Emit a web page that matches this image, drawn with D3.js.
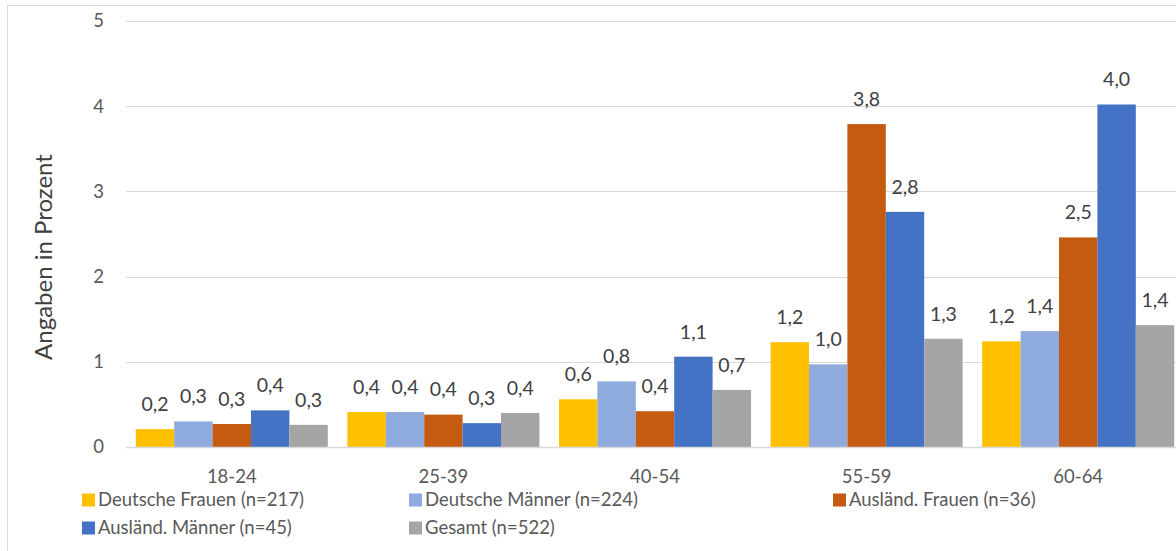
<!DOCTYPE html>
<html>
<head>
<meta charset="utf-8">
<script src="https://cdn.jsdelivr.net/npm/d3@7"></script>
<style>
  html, body { margin: 0; padding: 0; background: #fff; }
  svg { display: block; font-family: Lato, "Noto Sans", sans-serif; }
</style>
</head>
<body>
<svg id="chart" width="1176" height="551"></svg>
<script>
const categories = ["18-24", "25-39", "40-54", "55-59", "60-64"];
const seriesNames = ["Deutsche Frauen (n=217)", "Deutsche Männer (n=224)", "Ausländ. Frauen (n=36)", "Ausländ. Männer (n=45)", "Gesamt (n=522)"];
const deutscheFrauen = [0.21, 0.41, 0.56, 1.23, 1.24];
const deutscheMaenner = [0.30, 0.41, 0.77, 0.97, 1.36];
const auslFrauen = [0.27, 0.38, 0.42, 3.79, 2.46];
const auslMaenner = [0.43, 0.28, 1.06, 2.76, 4.02];
const gesamt = [0.26, 0.40, 0.67, 1.27, 1.43];
const yTicks = [0, 1, 2, 3, 4, 5];
const yTitle = "Angaben in Prozent";
const colors = ["#FFC000", "#8FAADC", "#C55A11", "#4472C4", "#A5A5A5"];

const seriesValues = [deutscheFrauen, deutscheMaenner, auslFrauen, auslMaenner, gesamt];
const svg = d3.select("#chart");

// chart area border
svg.append("rect").attr("x", 7.5).attr("y", 5.5).attr("width", 1200).attr("height", 600)
  .attr("fill", "none").attr("stroke", "#d9d9d9").attr("stroke-width", 1);

const y = d3.scaleLinear().domain([0, 5]).range([447, 21]);
const x0 = d3.scaleBand().domain(categories).range([126, 1184]).paddingInner(0.0926).paddingOuter(0.0463);
const x1 = d3.scaleBand().domain(seriesNames).range([0, x0.bandwidth()]);

// gridlines
svg.append("g").selectAll("line").data(yTicks.filter(t => t > 0)).join("line")
  .attr("x1", 126).attr("x2", 1184)
  .attr("y1", d => Math.round(y(d)) + 0.5).attr("y2", d => Math.round(y(d)) + 0.5)
  .attr("stroke", "#d9d9d9").attr("stroke-width", 1);

// y tick labels
svg.append("g").selectAll("text").data(yTicks).join("text")
  .attr("x", 104).attr("y", d => y(d)).attr("dy", "0.35em")
  .attr("text-anchor", "end").attr("font-size", 18.5).attr("fill", "#595959")
  .text(d => d);

// y title
svg.append("text").attr("transform", "translate(44,257) rotate(-90)")
  .attr("text-anchor", "middle").attr("dy", "0.35em").attr("font-size", 24).attr("fill", "#404040")
  .text(yTitle);

// bars
const groups = svg.append("g").selectAll("g").data(categories).join("g")
  .attr("transform", d => `translate(${x0(d)},0)`);

groups.selectAll("rect").data((c, i) => seriesNames.map((s, j) => ({ s, j, v: seriesValues[j][i] }))).join("rect")
  .attr("x", d => x1(d.s)).attr("width", x1.bandwidth())
  .attr("y", d => y(d.v)).attr("height", d => y(0) - y(d.v))
  .attr("fill", d => colors[d.j]);

groups.selectAll("text").data((c, i) => seriesNames.map((s, j) => ({ s, j, v: seriesValues[j][i] }))).join("text")
  .attr("x", d => x1(d.s) + x1.bandwidth() / 2).attr("y", d => y(d.v) - 25)
  .attr("dy", "0.35em").attr("text-anchor", "middle")
  .attr("font-size", 19.5).attr("fill", "#404040")
  .text(d => d.v.toFixed(1).replace(".", ","));

// baseline
svg.append("line").attr("x1", 126).attr("x2", 1184).attr("y1", y(0) + 0.5).attr("y2", y(0) + 0.5)
  .attr("stroke", "#d9d9d9").attr("stroke-width", 1.5);

// category labels
svg.append("g").selectAll("text").data(categories).join("text")
  .attr("x", d => x0(d) + x0.bandwidth() / 2).attr("y", 477).attr("dy", "0.35em")
  .attr("text-anchor", "middle").attr("font-size", 18.5).attr("fill", "#595959")
  .text(d => d);

// legend
const legendCols = [82, 409, 833];
const legendRows = [500, 528];
const legend = svg.append("g").selectAll("g").data(seriesNames).join("g")
  .attr("transform", (d, i) => `translate(${legendCols[i % 3]},${legendRows[Math.floor(i / 3)]})`);
legend.append("rect").attr("x", 0).attr("y", -6.5).attr("width", 13).attr("height", 13)
  .attr("fill", (d, i) => colors[i]);
legend.append("text").attr("x", 16).attr("y", 0).attr("dy", "0.35em")
  .attr("font-size", 18.5).attr("fill", "#595959").text(d => d);
</script>
</body>
</html>
